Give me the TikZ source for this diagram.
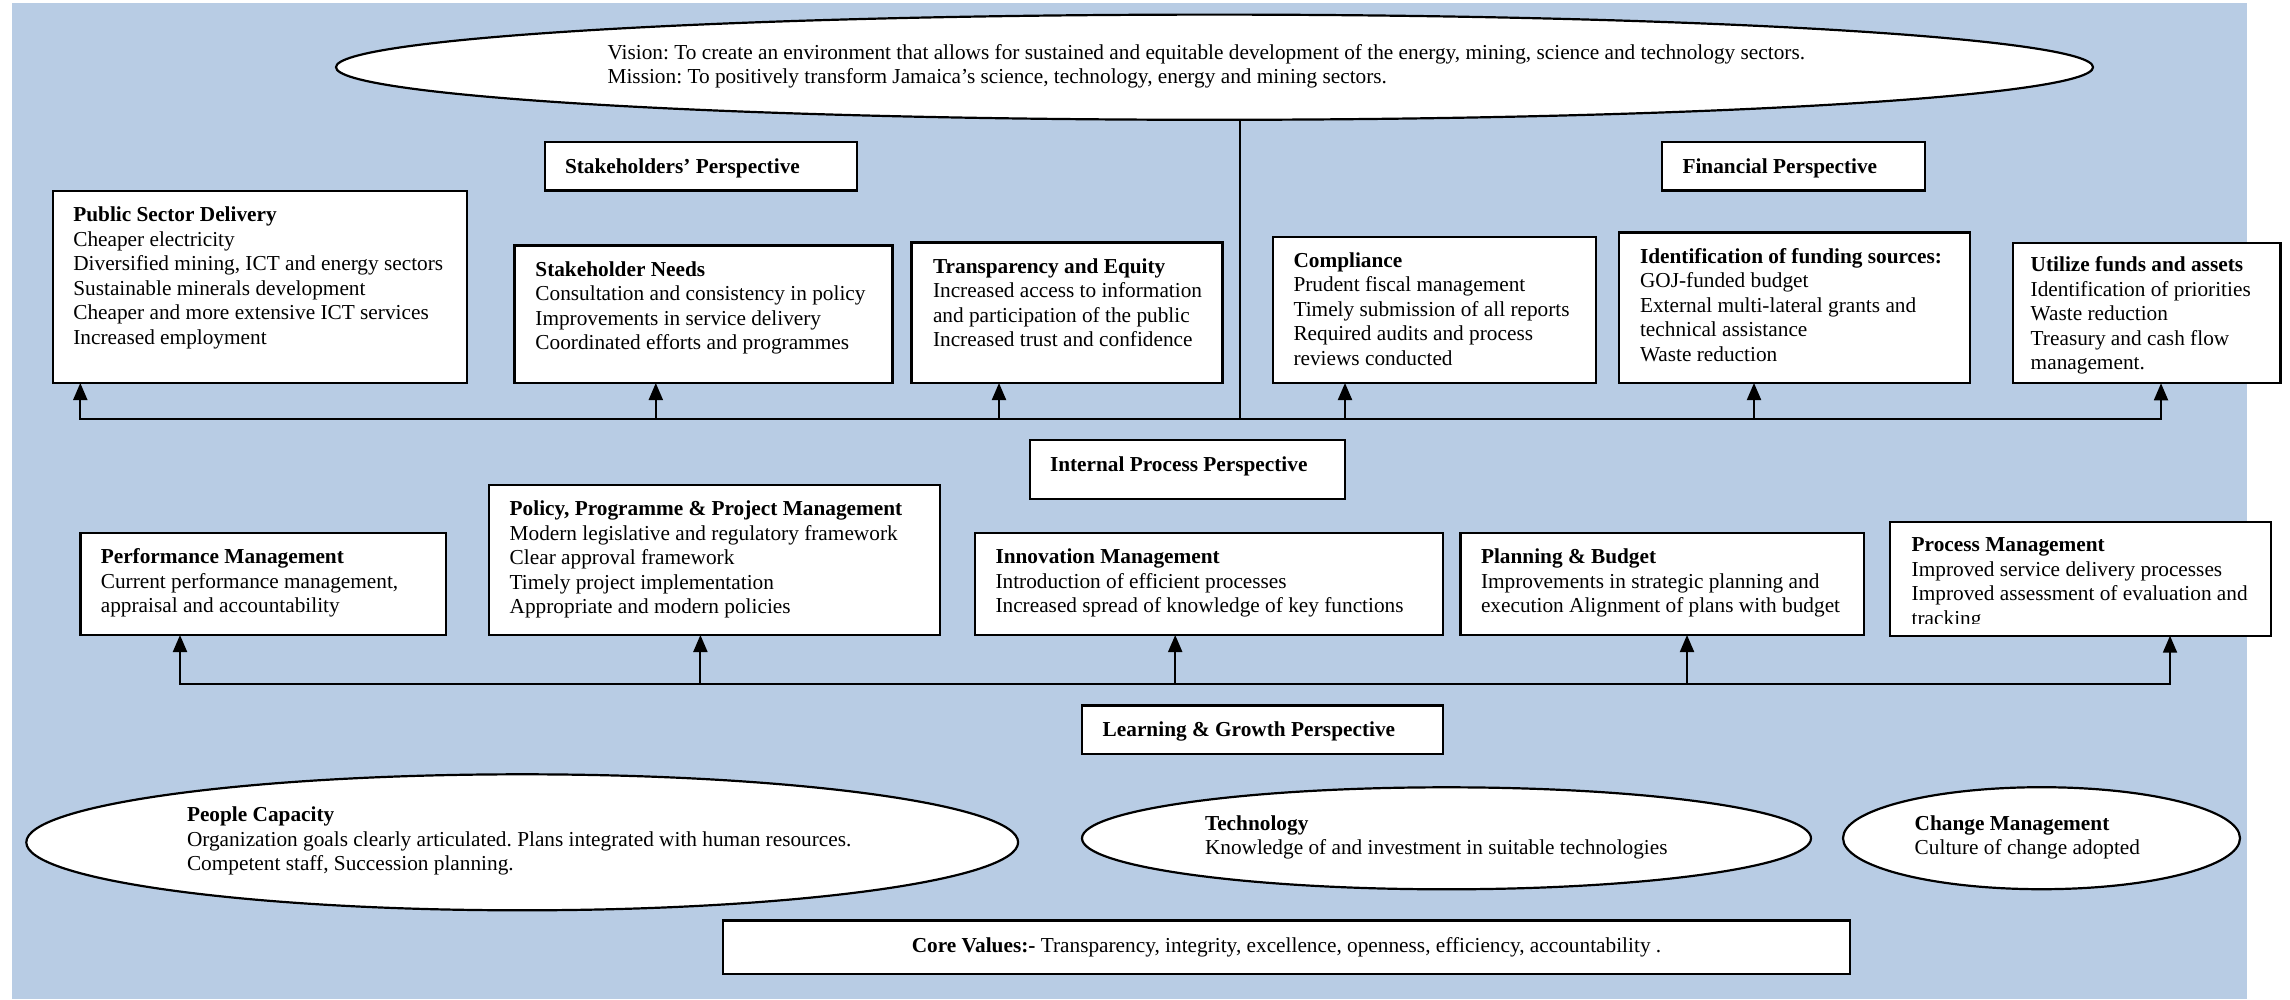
\documentclass[tikz,border=0pt]{standalone}
\usepackage{fontspec}
\setmainfont{Liberation Serif}
\usetikzlibrary{arrows.meta,shapes.geometric}
\definecolor{bgblue}{RGB}{184,204,228}
\newcommand{\mybodysize}{\fontsize{21.3}{24.5}\selectfont}
\frenchspacing
\begin{document}
\begin{tikzpicture}[x=1pt,y=-1pt,
  box/.style={draw=black, fill=white, line width=2.2pt, anchor=north west, inner sep=0pt, outer sep=0pt},
  oval/.style={draw=black, fill=white, line width=2.2pt, ellipse, inner sep=0pt, outer sep=0pt},
  txt/.style={font=\mybodysize, align=left, anchor=north west, inner sep=0pt, outer sep=0pt, text=black},
  conn/.style={line width=2pt, line cap=rect},
  arr/.style={line width=2pt, -{Triangle[length=17pt,width=14pt]}}
]
\useasboundingbox (0,0) rectangle (2290,999);
\fill[white] (0,0) rectangle (2290,999);
\fill[bgblue] (11.7,3) rectangle (2246.5,999);

% ---------- shapes ----------
\node[oval, minimum width=1757pt, minimum height=105.2pt] (vm) at (1214.5,67.2) {};

\node[box, minimum width=414.6pt, minimum height=192.3pt] (psd) at (52.6,190.7) {};
\node[box, minimum width=377.9pt, minimum height=137.5pt] (sn) at (514.5,245.5) {};
\node[box, minimum width=311pt, minimum height=140.6pt] (te) at (911.4,242.4) {};
\node[box, minimum width=323pt, minimum height=146.3pt] (co) at (1273.3,236.7) {};
\node[box, minimum width=351.2pt, minimum height=150.5pt] (id) at (1619,232.5) {};
\node[box, minimum width=267.5pt, minimum height=140.6pt] (ut) at (2013,242.7) {};

\node[box, minimum width=312.5pt, minimum height=48.8pt] (sp) at (544.8,141.7) {};
\node[box, minimum width=263pt, minimum height=48.8pt] (fp) at (1662,141.7) {};

\node[box, minimum width=315.3pt, minimum height=59pt] (ip) at (1029.7,440) {};

\node[box, minimum width=365.3pt, minimum height=102.3pt] (pm) at (80.5,532.7) {};
\node[box, minimum width=451pt, minimum height=150pt] (pp) at (489.2,485) {};
\node[box, minimum width=468pt, minimum height=102pt] (im) at (975,533) {};
\node[box, minimum width=403.5pt, minimum height=102pt] (pb) at (1460.5,533) {};
\node[box, minimum width=381pt, minimum height=114pt] (prm) at (1890,521.7) {};

\node[box, minimum width=361pt, minimum height=48.2pt] (lg) at (1082,705.4) {};

\node[oval, minimum width=991.8pt, minimum height=136pt] (pc) at (522.2,842.3) {};
\node[oval, minimum width=729pt, minimum height=102pt] (tech) at (1446.5,838.3) {};
\node[oval, minimum width=397pt, minimum height=102pt] (cm) at (2041.5,838.2) {};

\node[box, anchor=center, minimum width=1127pt, minimum height=53.5pt, font=\mybodysize] (cv) at (1286.5,947.25)
  {\textbf{Core Values:-} Transparency, integrity, excellence, openness, efficiency, accountability .};

% ---------- top bus ----------
\coordinate (vj) at (1240,418.5);
\coordinate (ta1) at (80.3,418.5);
\coordinate (ta2) at (655.8,418.5);
\coordinate (ta3) at (999,418.5);
\coordinate (ta4) at (1345,418.5);
\coordinate (ta5) at (1754,418.5);
\coordinate (ta6) at (2161,418.5);
\draw[conn] (vj |- vm.south) -- (vj);
\draw[conn] (ta1) -- (ta6);
\draw[arr] (ta1) -- (ta1 |- psd.south);
\draw[arr] (ta2) -- (ta2 |- sn.south);
\draw[arr] (ta3) -- (ta3 |- te.south);
\draw[arr] (ta4) -- (ta4 |- co.south);
\draw[arr] (ta5) -- (ta5 |- id.south);
\draw[arr] (ta6) -- (ta6 |- ut.south);

% ---------- bottom bus ----------
\coordinate (ba1) at (180,684);
\coordinate (ba2) at (700.4,684);
\coordinate (ba3) at (1175.2,684);
\coordinate (ba4) at (1687,684);
\coordinate (ba5) at (2170,684);
\draw[conn] (ba1) -- (ba5);
\draw[arr] (ba1) -- (ba1 |- pm.south);
\draw[arr] (ba2) -- (ba2 |- pp.south);
\draw[arr] (ba3) -- (ba3 |- im.south);
\draw[arr] (ba4) -- (ba4 |- pb.south);
\draw[arr] (ba5) -- (ba5 |- prm.south);

% ---------- texts ----------
\node[txt] (vm-t) at (607.6,41.85) {\strut Vision: To create an environment that allows for sustained and equitable development of the energy, mining, science and technology sectors.\\Mission: To positively transform Jamaica’s science, technology, energy and mining sectors.};

\node[txt] (sp-t) at (565,155.85) {\strut\textbf{Stakeholders’ Perspective}};
\node[txt] (fp-t) at (1682.5,155.85) {\strut\textbf{Financial Perspective}};

\node[txt] (psd-t) at (73.3,204.55) {\strut\textbf{Public Sector Delivery}\\Cheaper electricity\\Diversified mining, ICT and energy sectors\\Sustainable minerals development\\Cheaper and more extensive ICT services\\Increased employment};
\node[txt] (sn-t) at (535.4,258.85) {\strut\textbf{Stakeholder Needs}\\Consultation and consistency in policy\\Improvements in service delivery\\Coordinated efforts and programmes};
\node[txt] (te-t) at (933,255.85) {\strut\textbf{Transparency and Equity}\\Increased access to information\\and participation of the public\\Increased trust and confidence};
\node[txt] (co-t) at (1293.5,250.05) {\strut\textbf{Compliance}\\Prudent fiscal management\\Timely submission of all reports\\Required audits and process\\reviews conducted};
\node[txt] (id-t) at (1640,245.85) {\strut\textbf{Identification of funding sources:}\\GOJ-funded budget\\External multi-lateral grants and\\technical assistance\\Waste reduction};
\node[txt] (ut-t) at (2030.7,254.55) {\strut\textbf{Utilize funds and assets}\\Identification of priorities\\Waste reduction\\Treasury and cash flow\\management.};

\node[txt] (ip-t) at (1050,454.55) {\strut\textbf{Internal Process Perspective}};

\node[txt] (pm-t) at (100.8,546.35) {\strut\textbf{Performance Management}\\Current performance management,\\appraisal and accountability};
\node[txt] (pp-t) at (509.7,498.35) {\strut\textbf{Policy, Programme \& Project Management}\\Modern legislative and regulatory framework\\Clear approval framework\\Timely project implementation\\Appropriate and modern policies};
\node[txt] (im-t) at (995.5,546.35) {\strut\textbf{Innovation Management}\\Introduction of efficient processes\\Increased spread of knowledge of key functions};
\node[txt] (pb-t) at (1481,546.35) {\strut\textbf{Planning \& Budget}\\Improvements in strategic planning and\\execution Alignment of plans with budget};
\begin{scope}
\clip (1890,521.7) rectangle (2271,623.5);
\node[txt] (prm-t) at (1911.7,534.55) {\strut\textbf{Process Management}\\Improved service delivery processes\\Improved assessment of evaluation and\\tracking};
\end{scope}

\node[txt] (lg-t) at (1102.7,719.35) {\strut\textbf{Learning \& Growth Perspective}};

\node[txt] (pc-t) at (187,804.35) {\strut\textbf{People Capacity}\\Organization goals clearly articulated. Plans integrated with human resources.\\Competent staff, Succession planning.};
\node[txt] (tech-t) at (1205,812.85) {\strut\textbf{Technology}\\Knowledge of and investment in suitable technologies};
\node[txt] (cm-t) at (1914.7,812.85) {\strut\textbf{Change Management}\\Culture of change adopted};
\end{tikzpicture}
\end{document}
